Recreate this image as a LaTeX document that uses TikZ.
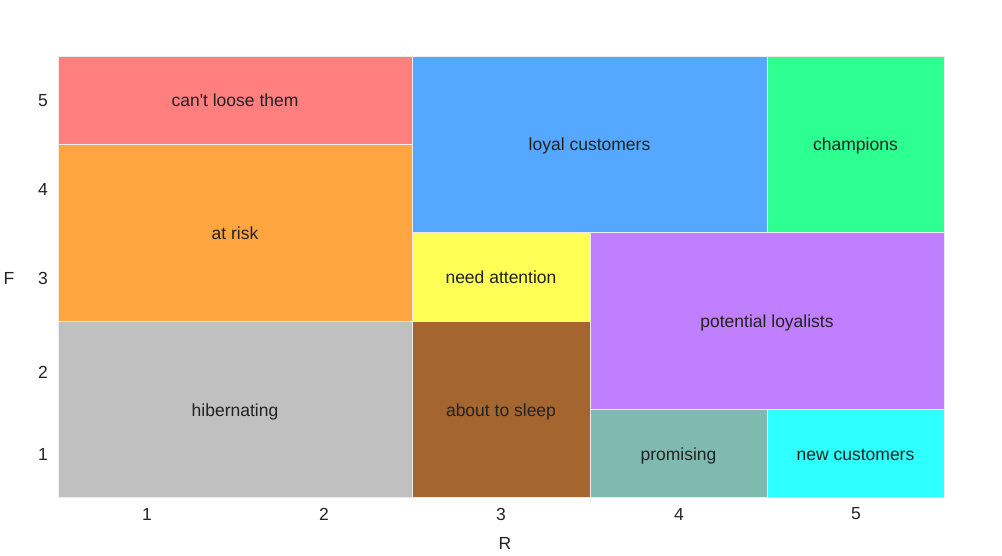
\documentclass[tikz,border=0pt]{standalone}
\usepackage{fontspec}
\setmainfont{Liberation Sans}
\definecolor{cpink}{HTML}{FF7F7F}
\definecolor{corange}{HTML}{FFA640}
\definecolor{cblue}{HTML}{55A8FF}
\definecolor{cgreen}{HTML}{2EFF91}
\definecolor{cyellow}{HTML}{FFFF55}
\definecolor{cpurple}{HTML}{C07FFF}
\definecolor{cbrown}{HTML}{A5652E}
\definecolor{cteal}{HTML}{7FBAB0}
\definecolor{ccyan}{HTML}{2EFFFF}
\definecolor{cgray}{HTML}{C0C0C0}
\definecolor{ctext}{HTML}{222222}
\begin{document}
\begin{tikzpicture}[x=1pt,y=-1pt,
  cell/.style={draw=white!85!gray,line width=0.5pt,inner sep=0pt,text=ctext,text height=15pt,text depth=1pt,font=\fontsize{17.5}{20}\selectfont},
  tick/.style={inner sep=0pt,text=ctext,font=\fontsize{17.5}{20}\selectfont}]
\useasboundingbox (0,0) rectangle (1002,556);
\node[cell,fill=cpink,minimum width=354pt,minimum height=88pt] (cant) at (235,100) {can\textquotesingle t loose them};
\node[cell,fill=corange,minimum width=354pt,minimum height=177pt] (risk) at (235,232.5) {at risk};
\node[cell,fill=cgray,minimum width=354pt,minimum height=176pt] (hib) at (235,409) {hibernating};
\node[cell,fill=cblue,minimum width=355pt,minimum height=176pt] (loyal) at (589.5,144) {loyal customers};
\node[cell,fill=cgreen,minimum width=177pt,minimum height=176pt] (champ) at (855.5,144) {champions};
\node[cell,fill=cyellow,minimum width=178pt,minimum height=89pt] (need) at (501,276.5) {need attention};
\node[cell,fill=cbrown,minimum width=178pt,minimum height=176pt] (sleep) at (501,409) {about to sleep};
\node[cell,fill=cpurple,minimum width=354pt,minimum height=177pt] (pot) at (767,320.5) {potential loyalists};
\node[cell,fill=cteal,minimum width=177pt,minimum height=88pt] (prom) at (678.5,453) {promising};
\node[cell,fill=ccyan,minimum width=177pt,minimum height=88pt] (newc) at (855.5,453) {new customers};
% y ticks
\node[tick] (f5) at (43,101) {5};
\node[tick] (f4) at (43,189) {4};
\node[tick] (f3) at (43,278) {3};
\node[tick] (f2) at (43,372) {2};
\node[tick] (f1) at (43,454) {1};
% x ticks
\node[tick] (r1) at (147,514) {1};
\node[tick] (r2) at (324,514) {2};
\node[tick] (r3) at (501,514) {3};
\node[tick] (r4) at (679,514) {4};
\node[tick] (r5) at (856,514) {5};
% axis labels
\node[tick] (ylab) at (9,278) {F};
\node[tick] (xlab) at (505,543) {R};
\end{tikzpicture}
\end{document}
